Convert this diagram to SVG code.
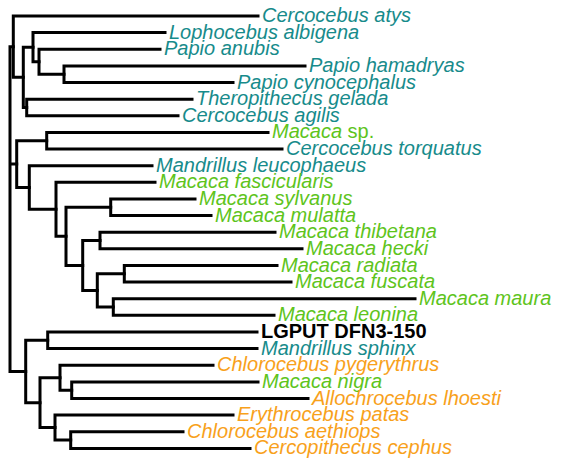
<svg xmlns="http://www.w3.org/2000/svg" width="561" height="459" viewBox="0 0 561 459">
<style>
.e{fill:none;stroke:#000;stroke-width:3;stroke-linecap:square;stroke-linejoin:miter}
text{font-family:"Liberation Sans",Arial,sans-serif;font-size:20px;font-style:italic}
.t{fill:#178b8b}
.g{fill:#5ec41c}
.o{fill:#f8a11b}
.k{fill:#000;font-style:normal;font-weight:bold}
</style>
<rect width="561" height="459" fill="#fff"/>
<g id="connectors">
<path class="e" d="M305,65.9 H64 V82.5 H233"/>
<path class="e" d="M160,49.3 H39 V74.2 H64"/>
<path class="e" d="M165,32.6 H33 V61.8 H39"/>
<path class="e" d="M192,99.2 H26.7 V115.8 H178"/>
<path class="e" d="M33,47.2 H23.3 V107.5 H26.7"/>
<path class="e" d="M258,16 H13.3 V77.3 H23.3"/>
<path class="e" d="M268,132.4 H46.7 V149 H282"/>
<path class="e" d="M195,198.9 H110.7 V215.6 H211"/>
<path class="e" d="M275,232.2 H100 V248.8 H302"/>
<path class="e" d="M277,265.5 H124.3 V282.1 H291"/>
<path class="e" d="M415,298.7 H113.3 V315.3 H274"/>
<path class="e" d="M124.3,273.8 H97.3 V307 H113.3"/>
<path class="e" d="M100,240.5 H82.7 V290.4 H97.3"/>
<path class="e" d="M110.7,207.2 H66 V265.4 H82.7"/>
<path class="e" d="M155,182.3 H56 V236.3 H66"/>
<path class="e" d="M152,165.7 H29.3 V209.3 H56"/>
<path class="e" d="M46.7,140.7 H16.7 V187.5 H29.3"/>
<path class="e" d="M257,332 H47.7 V348.6 H257"/>
<path class="e" d="M258,381.9 H71.7 V398.5 H308"/>
<path class="e" d="M213,365.2 H60 V390.2 H71.7"/>
<path class="e" d="M183,431.8 H70.7 V448.4 H250"/>
<path class="e" d="M233,415.1 H55 V440.1 H70.7"/>
<path class="e" d="M60,377.7 H40 V427.6 H55"/>
<path class="e" d="M47.7,340.3 H25.7 V402.7 H40"/>
<path class="e" d="M13.3,46.7 H10 V371.5 H25.7 M10,164.1 H16.7"/>
</g>
<g id="n1"><text class="t" x="262" y="22">Cercocebus atys</text></g>
<g id="n2"><text class="t" x="169" y="38.6">Lophocebus albigena</text></g>
<g id="n3"><text class="t" x="164" y="55.3">Papio anubis</text></g>
<g id="n4"><text class="t" x="309" y="71.9">Papio hamadryas</text></g>
<g id="n5"><text class="t" x="237" y="88.5">Papio cynocephalus</text></g>
<g id="n6"><text class="t" x="196" y="105.2">Theropithecus gelada</text></g>
<g id="n7"><text class="t" x="182" y="121.8">Cercocebus agilis</text></g>
<g id="n8"><text class="g" x="272" y="138.4">Macaca <tspan font-style="normal">sp.</tspan></text></g>
<g id="n9"><text class="t" x="286" y="155">Cercocebus torquatus</text></g>
<g id="n10"><text class="t" x="156" y="171.7">Mandrillus leucophaeus</text></g>
<g id="n11"><text class="g" x="159" y="188.3">Macaca fascicularis</text></g>
<g id="n12"><text class="g" x="199" y="204.9">Macaca sylvanus</text></g>
<g id="n13"><text class="g" x="215" y="221.6">Macaca mulatta</text></g>
<g id="n14"><text class="g" x="279" y="238.2">Macaca thibetana</text></g>
<g id="n15"><text class="g" x="306" y="254.8">Macaca hecki</text></g>
<g id="n16"><text class="g" x="281" y="271.5">Macaca radiata</text></g>
<g id="n17"><text class="g" x="295" y="288.1">Macaca fuscata</text></g>
<g id="n18"><text class="g" x="419" y="304.7">Macaca maura</text></g>
<g id="n19"><text class="g" x="278" y="321.3">Macaca leonina</text></g>
<g id="n20"><text class="k" x="261" y="338">LGPUT DFN3-150</text></g>
<g id="n21"><text class="t" x="261" y="354.6">Mandrillus sphinx</text></g>
<g id="n22"><text class="o" x="217" y="371.2">Chlorocebus pygerythrus</text></g>
<g id="n23"><text class="g" x="262" y="387.9">Macaca nigra</text></g>
<g id="n24"><text class="o" x="312" y="404.5">Allochrocebus lhoesti</text></g>
<g id="n25"><text class="o" x="237" y="421.1">Erythrocebus patas</text></g>
<g id="n26"><text class="o" x="187" y="437.8">Chlorocebus aethiops</text></g>
<g id="n27"><text class="o" x="254" y="454.4">Cercopithecus cephus</text></g>
</svg>
